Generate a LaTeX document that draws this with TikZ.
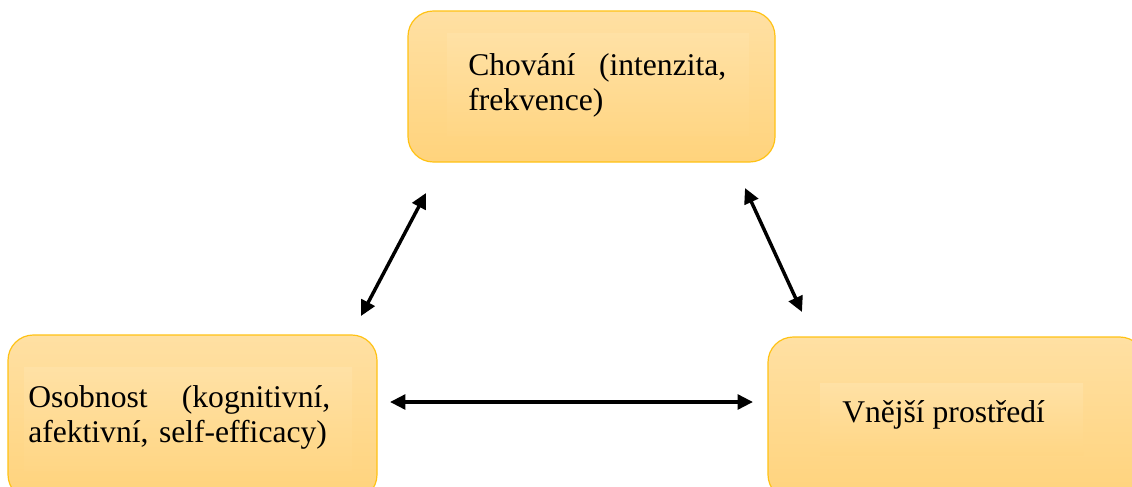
\documentclass[tikz,border=0pt]{standalone}
\usepackage{fontspec}
\setmainfont{Liberation Serif}[Ligatures=NoCommon]
\usetikzlibrary{arrows.meta}
\definecolor{boxtop}{RGB}{255,224,163}
\definecolor{boxbot}{RGB}{255,211,124}
\definecolor{innertop}{RGB}{255,225,165}
\definecolor{innerbot}{RGB}{255,214,133}
\definecolor{boxline}{RGB}{255,194,20}
\begin{document}
\begin{tikzpicture}[x=0.75pt,y=-0.75pt,
  box/.style={draw=boxline, line width=0.9pt, rounded corners=19pt,
    top color=boxtop, bottom color=boxbot, inner sep=0pt, shape=rectangle},
  inner/.style={top color=innertop, bottom color=innerbot, inner sep=0pt, shape=rectangle},
  label/.style={anchor=base west, inner sep=0pt, font=\fontsize{23.7pt}{26.25pt}\selectfont, align=left},
  dbl/.style={line width=2.6pt, {Triangle[length=11.5pt,width=11pt]}-{Triangle[length=11.5pt,width=11pt]}}]
\useasboundingbox (0,0) rectangle (1132,486);
\clip (0,0) rectangle (1132,486);
% boxes
\node[box, minimum width=275.25pt, minimum height=113.25pt] (chovani) at (591.5,86.5) {};
\node[inner, minimum width=226.5pt, minimum height=76.5pt] (chovaniin) at (598,84) {};
\node[box, minimum width=276.75pt, minimum height=123.75pt] (osobnost) at (192.5,417.5) {};
\node[inner, minimum width=246pt, minimum height=77.25pt] (osobnostin) at (188,418.5) {};
\node[box, minimum width=282.75pt, minimum height=122.25pt] (prostredi) at (956.5,418.5) {};
\node[inner, minimum width=197.25pt, minimum height=54pt] (prostrediin) at (951.5,419) {};
% texts
\node[label, text width=193.5pt] (tchovani) at (468,75) {Chování\hfill(intenzita,\\frekvence)};
\node[label, text width=226.5pt] (tosobnost) at (28,407) {Osobnost\hfill(kognitivní,\\afektivní, self-efficacy)};
\node[label] (tprostredi) at (842,422) {Vnější prostředí};
% connector ends
\coordinate (a1) at (361,316);
\coordinate (a2) at (426,193);
\coordinate (b1) at (745,188);
\coordinate (b2) at (802,312);
\coordinate (c1) at (390,402);
\coordinate (c2) at (753,402);
\draw[dbl] (a1) -- (a2);
\draw[dbl] (b1) -- (b2);
\draw[dbl] (c1) -- (c2);
\end{tikzpicture}
\end{document}
